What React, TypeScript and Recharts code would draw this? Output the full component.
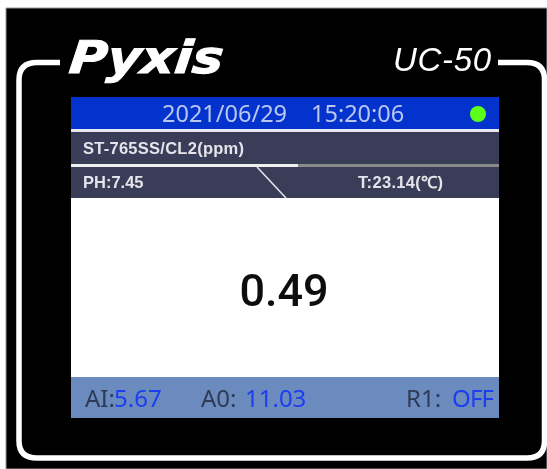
import { ComposedChart, Line, XAxis, YAxis, ReferenceArea, ReferenceLine, ReferenceDot } from 'recharts'

const W = 547
const H = 469

const brand = 'Pyxis'
const model = 'UC-50'
const dateLabel = '2021/06/29'
const timeLabel = '15:20:06'
const sensorLabel = 'ST-765SS/CL2(ppm)'
const phLabel = 'PH:7.45'
const tempLabel = 'T:23.14(℃)'
const mainValue = '0.49'
const footerNames = ['AI:', 'A0:', 'R1:']
const footerValues = ['5.67', '11.03', 'OFF']

const sans = '"Liberation Sans", Arial, sans-serif'
const screenFont = '"Noto Sans", sans-serif'

// rounded white frame with a gap at the top for the logo, plus all the screen text
const Frame = () => (
  <g filter="url(#soft)">
    <path d="M60 62.5 H37 Q19 62.5 19 80 V441 Q19 458 37 458 H527 Q544.5 458 544.5 441 V80 Q544.5 62.5 527 62.5 H498"
      fill="none" stroke="#fff" strokeWidth={5.5} />
    <text transform="translate(68 73) skewX(-6)" fontFamily='"DejaVu Sans", sans-serif' fontSize={45} fontWeight={700} fontStyle="italic" fill="#fff" stroke="#fff" strokeWidth={1}
      textLength={154} lengthAdjust="spacingAndGlyphs">{brand}</text>
    <text x={393} y={71} fontFamily={sans} fontSize={33} fontStyle="italic" fill="#fff" textLength={98}>{model}</text>

    <text x={162} y={122} fontFamily={screenFont} fontSize={23.5} fill="#b9c6f0">{dateLabel}</text>
    <text x={311} y={122} fontFamily={screenFont} fontSize={23.5} fill="#b9c6f0">{timeLabel}</text>

    <text x={83} y={154} fontFamily={sans} fontSize={16.5} fontWeight={700} fill="#e4e4ea" textLength={161}>{sensorLabel}</text>
    <text x={83} y={188} fontFamily={sans} fontSize={16.5} fontWeight={700} fill="#e4e4ea">{phLabel}</text>
    <text x={358} y={188} fontFamily={sans} fontSize={16.5} fontWeight={700} fill="#e4e4ea" textLength={85}>{tempLabel}</text>

    <text x={284} y={306} textAnchor="middle" fontFamily="Roboto, sans-serif" fontSize={45} fontWeight={500} fill="#0b0b0b">{mainValue}</text>

    <text x={85} y={407} fontFamily={screenFont} fontSize={24} fill="#2f3a55">{footerNames[0]}</text>
    <text x={114} y={407} fontFamily={screenFont} fontSize={24} fill="#1a3df0">{footerValues[0]}</text>
    <text x={201} y={407} fontFamily={screenFont} fontSize={24} fill="#2f3a55">{footerNames[1]}</text>
    <text x={245} y={407} fontFamily={screenFont} fontSize={24} fill="#1a3df0">{footerValues[1]}</text>
    <text x={406} y={407} fontFamily={screenFont} fontSize={24} fill="#2f3a55">{footerNames[2]}</text>
    <text x={452} y={407} fontFamily={screenFont} fontSize={24} fill="#1a3df0" textLength={42}>{footerValues[2]}</text>
  </g>
)

const axisData = [{ x: 0, y: 0 }, { x: W, y: H }]

export default function App() {
  return (
    <div style={{ position: 'absolute', left: 0, top: 0, width: W, height: H, background: '#fff' }}>
      <ComposedChart width={W} height={H} data={axisData} margin={{ top: 0, right: 0, bottom: 0, left: 0 }}>
        <defs>
          <filter id="soft" x="-5%" y="-5%" width="110%" height="110%">
            <feGaussianBlur stdDeviation="0.5" />
          </filter>
        </defs>
        <XAxis type="number" dataKey="x" domain={[0, W]} allowDataOverflow hide />
        <YAxis type="number" dataKey="y" domain={[0, H]} allowDataOverflow reversed hide />
        <Line dataKey="y" stroke="none" dot={false} isAnimationActive={false} />
        {/* page edge and black case */}
        <ReferenceArea x1={6} x2={W} y1={8} y2={H} fill="#000" fillOpacity={1} stroke="#999" strokeWidth={1} ifOverflow="visible" />
        {/* screen bands */}
        <ReferenceArea x1={71} x2={499} y1={97} y2={129} fill="#0432cc" fillOpacity={1} ifOverflow="visible" />
        <ReferenceArea x1={71} x2={499} y1={129} y2={132} fill="#e8e8ee" fillOpacity={1} ifOverflow="visible" />
        <ReferenceArea x1={71} x2={499} y1={132} y2={164} fill="#3a3d57" fillOpacity={1} ifOverflow="visible" />
        <ReferenceArea x1={71} x2={298} y1={164} y2={167} fill="#f0f0f0" fillOpacity={1} ifOverflow="visible" />
        <ReferenceArea x1={298} x2={499} y1={164} y2={167} fill="#8a8a8a" fillOpacity={1} ifOverflow="visible" />
        <ReferenceArea x1={71} x2={499} y1={167} y2={198} fill="#3a3d57" fillOpacity={1} ifOverflow="visible" />
        <ReferenceArea x1={71} x2={499} y1={198} y2={377} fill="#fff" fillOpacity={1} ifOverflow="visible" />
        <ReferenceArea x1={71} x2={499} y1={377} y2={418} fill="#6b8bbf" fillOpacity={1} ifOverflow="visible" />
        <ReferenceLine segment={[{ x: 257, y: 167 }, { x: 286, y: 198 }]} stroke="#e8e8ee" strokeWidth={1.5} ifOverflow="visible" />
        <ReferenceDot x={478} y={114} r={8} fill="#5cff1a" stroke="none" ifOverflow="visible" />
        <ReferenceDot x={0} y={0} r={0} ifOverflow="visible" shape={() => <Frame />} />
      </ComposedChart>
    </div>
  )
}
